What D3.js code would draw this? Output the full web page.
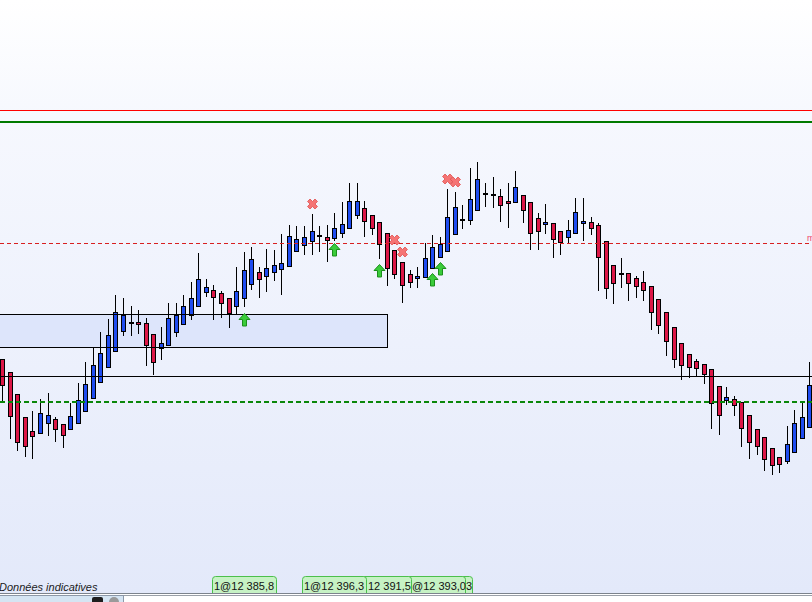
<!DOCTYPE html>
<html><head><meta charset="utf-8">
<script src="https://cdn.jsdelivr.net/npm/d3@7/dist/d3.min.js"></script>
<style>html,body{margin:0;padding:0;background:#fff;overflow:hidden}svg{display:block}</style>
</head><body><svg id="c" width="812" height="602"></svg>
<script>
// ---- data ----
const opens  = [12390.1,12388.8,12386.6,12384.3,12382.9,12382.7,12383.7,12384.1,12383.6,12383.1,12383.7,12384.9,12386.2,12387.8,12389.3,12390.9,12392.9,12393.7,12393.8,12393.7,12392.6,12391.2,12391.5,12392.8,12393.6,12394.5,12395.4,12396.8,12397.0,12396.7,12396.2,12395.4,12396.2,12397.6,12398.8,12398.4,12398.8,12399.1,12399.4,12400.9,12401.5,12401.9,12402.4,12402.3,12402.2,12402.7,12403.2,12404.5,12405.2,12404.5,12403.8,12402.7,12401.0,12399.8,12398.6,12398.2,12398.3,12399.2,12400.3,12400.9,12402.6,12404.0,12404.0,12405.0,12406.6,12406.5,12406.4,12405.9,12405.8,12406.5,12405.8,12404.2,12403.6,12403.7,12402.9,12402.3,12402.7,12403.7,12403.8,12403.5,12401.9,12399.5,12398.6,12398.7,12398.2,12397.8,12397.4,12396.1,12394.8,12393.3,12391.7,12390.6,12389.9,12389.6,12389.1,12387.4,12386.0,12386.1,12385.8,12384.5,12383.1,12382.3,12381.2,12380.3,12379.9,12380.8,12382.2,12383.3];
const highs  = [12390.1,12388.8,12386.6,12384.3,12384.9,12386.1,12386.7,12384.3,12383.6,12385.7,12387.7,12389.8,12391.3,12392.8,12394.1,12396.5,12396.2,12395.4,12395.0,12394.2,12392.6,12393.3,12395.7,12395.7,12396.5,12397.8,12400.7,12398.1,12397.5,12396.9,12396.2,12399.3,12400.8,12401.3,12399.3,12401.1,12401.0,12402.6,12403.5,12403.4,12403.4,12404.6,12403.4,12403.5,12404.7,12405.8,12407.7,12407.7,12405.9,12404.5,12403.8,12402.7,12401.0,12399.8,12399.0,12399.3,12401.7,12402.5,12402.3,12407.1,12406.8,12405.5,12409.2,12409.8,12407.7,12408.3,12407.1,12407.7,12408.9,12406.5,12405.8,12404.7,12405.6,12403.7,12402.9,12404.0,12406.2,12406.2,12404.3,12403.7,12401.9,12399.5,12400.2,12398.7,12398.4,12398.9,12397.4,12396.1,12394.8,12393.3,12391.7,12390.6,12390.1,12389.6,12389.1,12387.4,12387.3,12386.4,12385.8,12384.5,12383.1,12382.3,12381.2,12380.3,12383.4,12385.0,12385.9,12389.8];
const lows   = [12385.8,12382.1,12380.9,12380.3,12380.1,12382.7,12382.4,12381.8,12381.2,12383.1,12383.7,12384.9,12386.2,12387.8,12389.3,12390.9,12392.4,12392.4,12392.6,12389.4,12388.5,12390.0,12391.5,12392.3,12393.6,12394.0,12395.4,12396.3,12394.0,12394.2,12393.2,12394.5,12395.3,12397.0,12396.2,12396.8,12397.9,12396.5,12399.4,12400.9,12400.5,12400.5,12400.8,12399.8,12401.9,12402.2,12403.2,12404.1,12402.3,12402.5,12400.1,12397.4,12398.1,12395.7,12397.2,12397.2,12398.3,12399.2,12400.3,12400.9,12402.6,12403.1,12403.5,12405.0,12405.3,12405.2,12403.8,12403.2,12405.8,12403.7,12401.0,12401.0,12402.6,12400.2,12400.5,12401.6,12402.7,12401.9,12402.5,12396.9,12396.1,12395.6,12397.2,12395.9,12396.2,12395.9,12393.0,12392.6,12390.4,12389.2,12388.0,12388.2,12388.3,12387.6,12383.1,12382.5,12385.5,12384.4,12381.3,12380.1,12380.5,12378.9,12378.5,12378.7,12379.6,12380.8,12382.2,12383.3];
const closes = [12387.5,12384.4,12381.8,12381.4,12382.4,12384.7,12384.5,12383.1,12382.5,12384.4,12386.0,12387.6,12389.5,12390.7,12392.5,12394.8,12394.5,12393.7,12393.6,12391.5,12389.8,12391.7,12394.2,12394.5,12395.4,12396.2,12398.1,12397.3,12396.3,12395.7,12394.7,12396.9,12399.0,12400.1,12398.1,12399.2,12399.5,12399.7,12402.4,12402.1,12402.3,12402.9,12402.4,12402.0,12403.2,12403.6,12405.9,12405.9,12403.9,12403.2,12401.6,12399.2,12398.6,12397.5,12397.8,12398.4,12400.2,12401.3,12401.6,12404.3,12405.3,12404.0,12406.1,12408.1,12406.6,12406.5,12405.5,12405.7,12407.3,12405.0,12402.7,12402.9,12403.8,12402.1,12401.8,12403.0,12404.8,12403.9,12403.2,12400.3,12397.2,12397.7,12398.6,12397.7,12397.4,12397.0,12394.8,12393.5,12391.9,12390.1,12389.5,12389.3,12389.2,12388.6,12385.7,12384.5,12386.3,12385.5,12383.2,12381.8,12381.4,12380.1,12379.5,12379.6,12381.6,12383.7,12384.3,12387.5];

// horizontal levels
const redLevel = 12415.0;
const greenLevel = 12413.8;
const dashedRedLevel = 12401.7;
const blackLevel = 12388.4;
const dashedGreenLevel = 12385.8;
const zoneTop = 12394.6, zoneBottom = 12391.3, zoneEndIndex = 51;

// signals
const buyIdx    = [32, 44, 50, 57, 58];
const buyPrice  = [12394.7, 12401.7, 12399.6, 12398.7, 12399.8];
const sellIdx   = [41, 52, 53, 59, 60];
const sellPrice = [12405.6, 12402.0, 12400.8, 12408.1, 12407.8];

// order labels (visible part of each tag; later tags sit underneath earlier ones)
const orderLabels = ["1@12 385,8", "1@12 396,3", "12 391,5", "@12 393,0", "3"];
const orderBoxX   = [212, 302, 347, 401, 408];
const orderTextX  = [214, 304, 368, 412, 466];
const footerText = "Données indicatives";

// ---- drawing ----
const W = 812, H = 602;
const svg = d3.select("#c");
const x = d3.scaleLinear().domain([0, opens.length - 1]).range([2.3, 809.3]);
const y = d3.scaleLinear().domain([12426, 12365.8]).range([0, 602]);

const defs = svg.append("defs");
const g = defs.append("linearGradient").attr("id","bg").attr("x1",0).attr("y1",0).attr("x2",0).attr("y2",1);
g.append("stop").attr("offset","0%").attr("stop-color","#ffffff");
g.append("stop").attr("offset","20%").attr("stop-color","#f6f8fe");
g.append("stop").attr("offset","100%").attr("stop-color","#e3e9fa");
defs.append("clipPath").attr("id","plot").append("rect").attr("x",0).attr("y",0).attr("width",W).attr("height",593);

svg.append("rect").attr("x",0).attr("y",0).attr("width",W).attr("height",593).attr("fill","url(#bg)");

const plot = svg.append("g").attr("clip-path","url(#plot)");
const cr = v => Math.round(v) + 0.5;

// zone fill
const zx1 = cr(x(zoneEndIndex));
plot.append("rect").attr("x",-2).attr("y",cr(y(zoneTop))).attr("width",zx1 + 2)
  .attr("height",Math.round(y(zoneBottom)) - Math.round(y(zoneTop))).attr("fill","#dde5fb");

// candles
const idx = d3.range(opens.length);
const cg = plot.append("g");
idx.forEach(i => {
  const px = Math.round(x(i));
  const o = opens[i], c = closes[i];
  cg.append("line").attr("x1",px+0.5).attr("x2",px+0.5)
    .attr("y1",Math.round(y(highs[i]))).attr("y2",Math.round(y(lows[i])))
    .attr("stroke","#000").attr("stroke-width",1);
  if (o === c) {
    cg.append("rect").attr("x",px-2).attr("y",Math.round(y(o))-1).attr("width",5).attr("height",2).attr("fill","#000");
  } else {
    const t = cr(y(Math.max(o,c))), b = cr(y(Math.min(o,c)));
    cg.append("rect").attr("x",px-1.5).attr("y",t).attr("width",4).attr("height",Math.max(1,b-t))
      .attr("fill", c > o ? "#1f4cf0" : "#dc1747").attr("stroke","#000").attr("stroke-width",1);
  }
});

// zone outline
plot.append("rect").attr("x",-2).attr("y",cr(y(zoneTop))).attr("width",zx1 + 2)
  .attr("height",Math.round(y(zoneBottom)) - Math.round(y(zoneTop))).attr("fill","none").attr("stroke","#000");

// levels
plot.append("line").attr("x1",0).attr("x2",W).attr("y1",cr(y(redLevel))).attr("y2",cr(y(redLevel))).attr("stroke","#ff0000");
plot.append("line").attr("x1",0).attr("x2",W).attr("y1",Math.round(y(greenLevel))).attr("y2",Math.round(y(greenLevel))).attr("stroke","#007a00").attr("stroke-width",2);
plot.append("line").attr("x1",0).attr("x2",W).attr("y1",cr(y(dashedRedLevel))).attr("y2",cr(y(dashedRedLevel))).attr("stroke","#d82020").attr("stroke-dasharray","4,3");
plot.append("line").attr("x1",0).attr("x2",W).attr("y1",cr(y(blackLevel))).attr("y2",cr(y(blackLevel))).attr("stroke","#000");
plot.append("line").attr("x1",0).attr("x2",W).attr("y1",Math.round(y(dashedGreenLevel))).attr("y2",Math.round(y(dashedGreenLevel))).attr("stroke","#0a870a").attr("stroke-width",2).attr("stroke-dasharray","5,3");
plot.append("text").attr("x",807).attr("y",cr(y(dashedRedLevel))-3).attr("font-family","Liberation Sans, Arial, sans-serif").attr("font-size",9).attr("fill","#f0456a").text("m");

// signals
const arrowPath = "M0,0 L5.5,6 L2,6 L2,12.5 L-2,12.5 L-2,6 L-5.5,6 Z";
buyIdx.forEach((bi,k) => {
  plot.append("path").attr("d",arrowPath)
    .attr("transform",`translate(${Math.round(x(bi))+0.5},${Math.round(y(buyPrice[k]))+0.5})`)
    .attr("fill","#3acb3a").attr("stroke","#1b8f1b").attr("stroke-width",1).attr("stroke-linejoin","miter");
});
const cross = d3.symbol().type(d3.symbolCross).size(62);
sellIdx.forEach((si,k) => {
  plot.append("path").attr("d",cross())
    .attr("transform",`translate(${Math.round(x(si))+0.5},${y(sellPrice[k])}) rotate(45)`)
    .attr("fill","#f57474").attr("stroke","#e25454").attr("stroke-width",0.8);
});

// footer text
svg.append("text").attr("x",-1).attr("y",590.5).attr("font-family","Liberation Sans, Arial, sans-serif")
  .attr("font-style","italic").attr("font-size",11).attr("fill","#1a1a1a").text(footerText);

// order labels (later ones underneath)
for (let k = orderLabels.length - 1; k >= 0; k--) {
  const lx = orderBoxX[k];
  const gl = svg.append("g");
  gl.append("path").attr("d",`M${lx+0.5},593 L${lx+0.5},579.5 Q${lx+0.5},576.5 ${lx+3.5},576.5 L${lx+61.5},576.5 Q${lx+64.5},576.5 ${lx+64.5},579.5 L${lx+64.5},593`)
    .attr("fill","#c6f2c4").attr("stroke","#4cc04c");
  gl.append("text").attr("x",orderTextX[k]).attr("y",590).attr("font-family","Liberation Sans, Arial, sans-serif")
    .attr("font-size",11).attr("fill","#111").text(orderLabels[k]);
}

// bottom toolbar
svg.append("rect").attr("x",0).attr("y",593).attr("width",W).attr("height",9).attr("fill","#ffffff");
svg.append("line").attr("x1",0).attr("x2",W).attr("y1",593.5).attr("y2",593.5).attr("stroke","#7c838c");
svg.append("line").attr("x1",124).attr("x2",W).attr("y1",595.5).attr("y2",595.5).attr("stroke","#9aa0a8");
svg.append("rect").attr("x",0).attr("y",596).attr("width",123).attr("height",7).attr("fill","#d5e5f3");
svg.append("line").attr("x1",0).attr("x2",124).attr("y1",595.5).attr("y2",595.5).attr("stroke","#8c98a8");
svg.append("line").attr("x1",123.5).attr("x2",123.5).attr("y1",595).attr("y2",602).attr("stroke","#8c98a8");
svg.append("rect").attr("x",92).attr("y",597).attr("width",11).attr("height",9).attr("rx",2).attr("fill","#1e1e1e");
svg.append("circle").attr("cx",114).attr("cy",602).attr("r",5).attr("fill","#9a9a9a");
</script></body></html>
